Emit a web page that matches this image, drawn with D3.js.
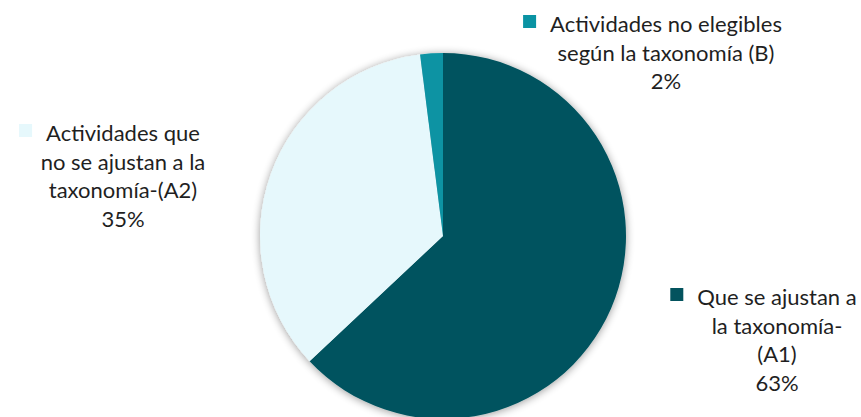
<!DOCTYPE html>
<html>
<head>
<meta charset="utf-8">
<script src="https://cdn.jsdelivr.net/npm/d3@7"></script>
<style>
  html, body { margin: 0; padding: 0; background: #ffffff; }
  svg { display: block; }
</style>
</head>
<body>
<svg id="chart" width="861" height="417"></svg>
<script>
// Taxonomy alignment breakdown
const categories = ["Que se ajustan a la taxonomía-(A1)", "Actividades que no se ajustan a la taxonomía-(A2)", "Actividades no elegibles según la taxonomía (B)"];
const values = [63, 35, 2];
const colors = ["#03535E", "#E6F8FC", "#0A93A3"];
const labelLines = [
  ["Que se ajustan a", "la taxonomía-", "(A1)", "63%"],
  ["Actividades que", "no se ajustan a la", "taxonomía-(A2)", "35%"],
  ["Actividades no elegibles", "según la taxonomía (B)", "2%"]
];
// label anchor: centre x and first baseline y
const labelPos = [
  { x: 777, y: 305 },
  { x: 123, y: 141 },
  { x: 666, y: 32 }
];

const svg = d3.select("#chart");
const cx = 443, cy = 236, r = 183;

const defs = svg.append("defs");
const f = defs.append("filter").attr("id", "soft").attr("x", "-20%").attr("y", "-20%").attr("width", "140%").attr("height", "140%");
f.append("feGaussianBlur").attr("in", "SourceAlpha").attr("stdDeviation", 4).attr("result", "b");
f.append("feOffset").attr("in", "b").attr("dx", 0).attr("dy", 1).attr("result", "o");
f.append("feComponentTransfer").attr("in", "o").attr("result", "s")
  .append("feFuncA").attr("type", "linear").attr("slope", 0.4);
const m = f.append("feMerge");
m.append("feMergeNode").attr("in", "s");
m.append("feMergeNode").attr("in", "SourceGraphic");

const data = categories.map((c, i) => ({ cat: c, value: values[i], color: colors[i], i }));
const pie = d3.pie().sort(null).value(d => d.value);
const arc = d3.arc().innerRadius(0).outerRadius(r);

const g = svg.append("g").attr("transform", `translate(${cx},${cy})`).attr("filter", "url(#soft)");
g.selectAll("path").data(pie(data)).join("path")
  .attr("d", arc)
  .attr("fill", d => d.data.color);

// Data labels with legend key
const fontSize = 22, lineH = 28.5;
data.forEach((d, i) => {
  const p = labelPos[i];
  const lg = svg.append("g");
  const texts = labelLines[i].map((line, k) =>
    lg.append("text")
      .attr("x", p.x).attr("y", p.y + k * lineH)
      .attr("text-anchor", "middle")
      .attr("font-family", "Lato, sans-serif")
      .attr("font-size", fontSize)
      .attr("fill", "#1f1f1f")
      .text(line)
  );
  const w = texts[0].node().getComputedTextLength();
  lg.append("rect")
    .attr("x", p.x - w / 2 - 27)
    .attr("y", p.y - 17)
    .attr("width", 13).attr("height", 13)
    .attr("fill", d.color);
});
</script>
</body>
</html>
